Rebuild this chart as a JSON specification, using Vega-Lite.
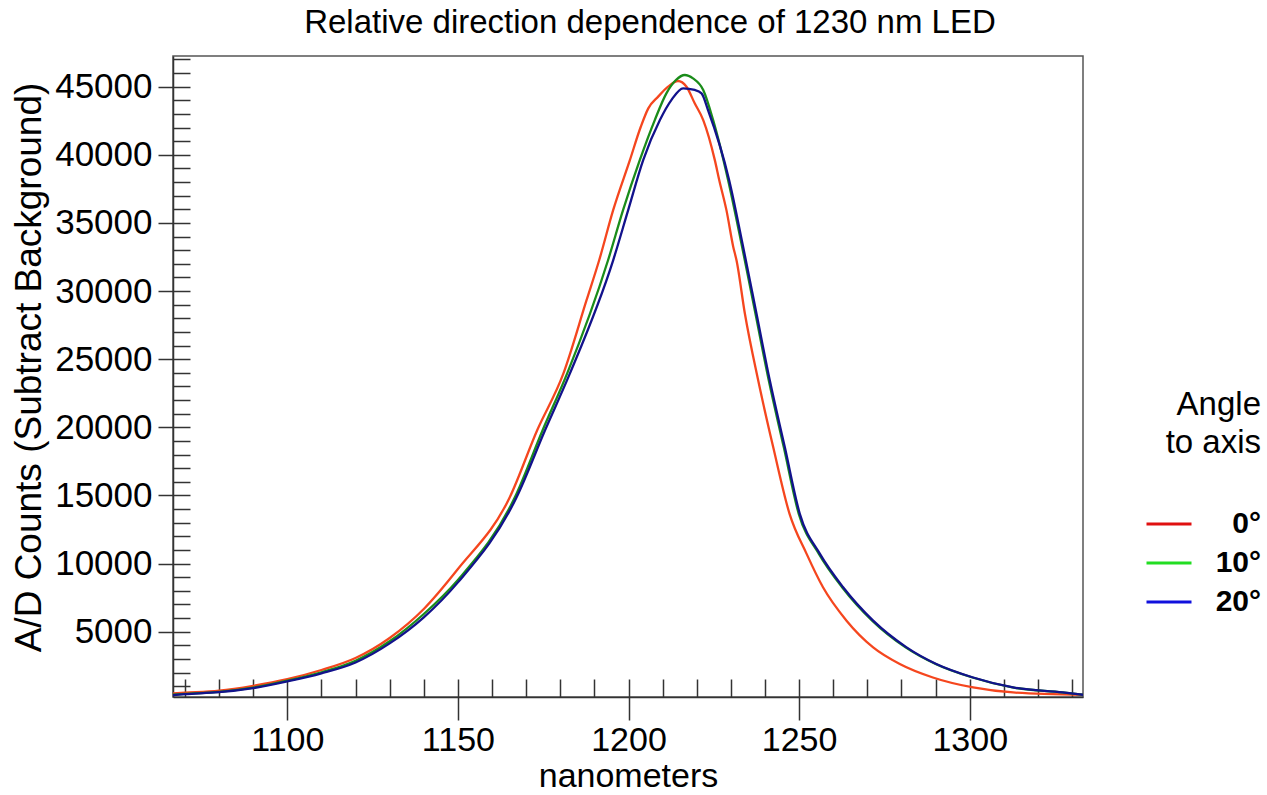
{
  "$schema": "https://vega.github.io/schema/vega-lite/v6.json",
  "width": 910,
  "height": 641,
  "autosize": {"type": "none"},
  "padding": {"left": 173, "top": 56, "right": 184, "bottom": 98},
  "background": "white",
  "config": {
    "font": "Liberation Sans",
    "view": {"stroke": "#555", "strokeWidth": 1.5},
    "axis": {
      "domainColor": "#333", "domainWidth": 1.5, "tickColor": "#333", "tickWidth": 1.5,
      "labelFont": "Liberation Sans", "labelFontSize": 35, "labelColor": "black",
      "titleFont": "Liberation Sans", "titleFontSize": 36, "titleFontWeight": "normal", "titleColor": "black",
      "grid": false
    }
  },
  "title": {
    "text": "Relative direction dependence of 1230 nm LED",
    "font": "Liberation Sans", "fontSize": 33, "fontWeight": "normal", "color": "black",
    "anchor": "middle", "dx": 22, "offset": 16
  },
  "data": {"values": [
    {"nm": 1066.5, "counts": 470, "angle": "0°"},
    {"nm": 1070, "counts": 520, "angle": "0°"},
    {"nm": 1080, "counts": 670, "angle": "0°"},
    {"nm": 1090, "counts": 1030, "angle": "0°"},
    {"nm": 1100, "counts": 1520, "angle": "0°"},
    {"nm": 1110, "counts": 2190, "angle": "0°"},
    {"nm": 1120, "counts": 3070, "angle": "0°"},
    {"nm": 1130, "counts": 4540, "angle": "0°"},
    {"nm": 1140, "counts": 6670, "angle": "0°"},
    {"nm": 1150, "counts": 9600, "angle": "0°"},
    {"nm": 1165.2, "counts": 14870, "angle": "0°"},
    {"nm": 1173.2, "counts": 19770, "angle": "0°"},
    {"nm": 1180.9, "counts": 23940, "angle": "0°"},
    {"nm": 1187.7, "counts": 29330, "angle": "0°"},
    {"nm": 1191.4, "counts": 32260, "angle": "0°"},
    {"nm": 1195.5, "counts": 35940, "angle": "0°"},
    {"nm": 1200.4, "counts": 39610, "angle": "0°"},
    {"nm": 1203.6, "counts": 42060, "angle": "0°"},
    {"nm": 1205.8, "counts": 43410, "angle": "0°"},
    {"nm": 1208.7, "counts": 44270, "angle": "0°"},
    {"nm": 1211.6, "counts": 45000, "angle": "0°"},
    {"nm": 1214.5, "counts": 45420, "angle": "0°"},
    {"nm": 1217.0, "counts": 45000, "angle": "0°"},
    {"nm": 1219.4, "counts": 43780, "angle": "0°"},
    {"nm": 1221.9, "counts": 42550, "angle": "0°"},
    {"nm": 1225.3, "counts": 39610, "angle": "0°"},
    {"nm": 1226.6, "counts": 38140, "angle": "0°"},
    {"nm": 1228.7, "counts": 35940, "angle": "0°"},
    {"nm": 1230.7, "counts": 33240, "angle": "0°"},
    {"nm": 1231.65, "counts": 32260, "angle": "0°"},
    {"nm": 1234.1, "counts": 28350, "angle": "0°"},
    {"nm": 1238.0, "counts": 23450, "angle": "0°"},
    {"nm": 1242.4, "counts": 18550, "angle": "0°"},
    {"nm": 1247.2, "counts": 13650, "angle": "0°"},
    {"nm": 1252.2, "counts": 10710, "angle": "0°"},
    {"nm": 1257.0, "counts": 8260, "angle": "0°"},
    {"nm": 1263.9, "counts": 5810, "angle": "0°"},
    {"nm": 1271.7, "counts": 3850, "angle": "0°"},
    {"nm": 1279.5, "counts": 2630, "angle": "0°"},
    {"nm": 1289.2, "counts": 1640, "angle": "0°"},
    {"nm": 1301.0, "counts": 910, "angle": "0°"},
    {"nm": 1312.7, "counts": 540, "angle": "0°"},
    {"nm": 1333.2, "counts": 360, "angle": "0°"},

    {"nm": 1066.5, "counts": 380, "angle": "10°"},
    {"nm": 1070, "counts": 440, "angle": "10°"},
    {"nm": 1080, "counts": 590, "angle": "10°"},
    {"nm": 1090, "counts": 900, "angle": "10°"},
    {"nm": 1100, "counts": 1400, "angle": "10°"},
    {"nm": 1110, "counts": 2020, "angle": "10°"},
    {"nm": 1120, "counts": 2870, "angle": "10°"},
    {"nm": 1130, "counts": 4300, "angle": "10°"},
    {"nm": 1140, "counts": 6300, "angle": "10°"},
    {"nm": 1150, "counts": 8800, "angle": "10°"},
    {"nm": 1166.7, "counts": 14870, "angle": "10°"},
    {"nm": 1174.8, "counts": 19770, "angle": "10°"},
    {"nm": 1182.0, "counts": 23940, "angle": "10°"},
    {"nm": 1194.0, "counts": 32260, "angle": "10°"},
    {"nm": 1198.4, "counts": 35940, "angle": "10°"},
    {"nm": 1203.3, "counts": 39610, "angle": "10°"},
    {"nm": 1207.7, "counts": 42550, "angle": "10°"},
    {"nm": 1211.1, "counts": 44510, "angle": "10°"},
    {"nm": 1213.9, "counts": 45490, "angle": "10°"},
    {"nm": 1216.5, "counts": 45860, "angle": "10°"},
    {"nm": 1218.9, "counts": 45610, "angle": "10°"},
    {"nm": 1221.9, "counts": 44760, "angle": "10°"},
    {"nm": 1224.8, "counts": 42550, "angle": "10°"},
    {"nm": 1229.2, "counts": 38140, "angle": "10°"},
    {"nm": 1233.3, "counts": 33240, "angle": "10°"},
    {"nm": 1237.2, "counts": 28350, "angle": "10°"},
    {"nm": 1241.1, "counts": 23450, "angle": "10°"},
    {"nm": 1245.5, "counts": 18550, "angle": "10°"},
    {"nm": 1249.9, "counts": 13650, "angle": "10°"},
    {"nm": 1255.8, "counts": 10710, "angle": "10°"},
    {"nm": 1262.6, "counts": 8260, "angle": "10°"},
    {"nm": 1271.4, "counts": 5810, "angle": "10°"},
    {"nm": 1281.2, "counts": 3850, "angle": "10°"},
    {"nm": 1290.0, "counts": 2630, "angle": "10°"},
    {"nm": 1300.8, "counts": 1640, "angle": "10°"},
    {"nm": 1312.5, "counts": 910, "angle": "10°"},
    {"nm": 1327.1, "counts": 540, "angle": "10°"},
    {"nm": 1333.2, "counts": 370, "angle": "10°"},

    {"nm": 1066.5, "counts": 350, "angle": "20°"},
    {"nm": 1070, "counts": 420, "angle": "20°"},
    {"nm": 1080, "counts": 560, "angle": "20°"},
    {"nm": 1090, "counts": 860, "angle": "20°"},
    {"nm": 1100, "counts": 1350, "angle": "20°"},
    {"nm": 1110, "counts": 1940, "angle": "20°"},
    {"nm": 1120, "counts": 2740, "angle": "20°"},
    {"nm": 1130, "counts": 4140, "angle": "20°"},
    {"nm": 1140, "counts": 6050, "angle": "20°"},
    {"nm": 1150, "counts": 8620, "angle": "20°"},
    {"nm": 1167.2, "counts": 14870, "angle": "20°"},
    {"nm": 1175.5, "counts": 19770, "angle": "20°"},
    {"nm": 1182.8, "counts": 23940, "angle": "20°"},
    {"nm": 1195.5, "counts": 32260, "angle": "20°"},
    {"nm": 1199.9, "counts": 35940, "angle": "20°"},
    {"nm": 1204.3, "counts": 39610, "angle": "20°"},
    {"nm": 1209.2, "counts": 42550, "angle": "20°"},
    {"nm": 1212.6, "counts": 44030, "angle": "20°"},
    {"nm": 1216.0, "counts": 44880, "angle": "20°"},
    {"nm": 1219.4, "counts": 44760, "angle": "20°"},
    {"nm": 1221.4, "counts": 44510, "angle": "20°"},
    {"nm": 1223.3, "counts": 43290, "angle": "20°"},
    {"nm": 1229.5, "counts": 38140, "angle": "20°"},
    {"nm": 1233.6, "counts": 33240, "angle": "20°"},
    {"nm": 1237.5, "counts": 28350, "angle": "20°"},
    {"nm": 1241.4, "counts": 23450, "angle": "20°"},
    {"nm": 1245.8, "counts": 18550, "angle": "20°"},
    {"nm": 1250.2, "counts": 13650, "angle": "20°"},
    {"nm": 1256.1, "counts": 10710, "angle": "20°"},
    {"nm": 1262.9, "counts": 8260, "angle": "20°"},
    {"nm": 1271.7, "counts": 5810, "angle": "20°"},
    {"nm": 1281.5, "counts": 3850, "angle": "20°"},
    {"nm": 1290.2, "counts": 2630, "angle": "20°"},
    {"nm": 1301.0, "counts": 1640, "angle": "20°"},
    {"nm": 1312.7, "counts": 910, "angle": "20°"},
    {"nm": 1327.3, "counts": 540, "angle": "20°"},
    {"nm": 1333.2, "counts": 370, "angle": "20°"}
  ]},
  "layer": [
    {
      "mark": {"type": "line", "strokeWidth": 2.3, "clip": true, "interpolate": "monotone"},
      "encoding": {
        "x": {"field": "nm", "type": "quantitative",
          "scale": {"domain": [1066.5, 1333.2], "nice": false, "zero": false},
          "axis": {"values": [1100, 1150, 1200, 1250, 1300], "format": "d", "tickSize": 23, "labelPadding": 3, "labelFontSize": 34, "labelFlush": false, "title": "nanometers", "titleFontSize": 34, "titlePadding": 2}},
        "y": {"field": "counts", "type": "quantitative",
          "scale": {"domain": [207, 47253], "nice": false, "zero": false},
          "axis": {"values": [5000, 10000, 15000, 20000, 25000, 30000, 35000, 40000, 45000], "format": "d", "tickSize": 15, "labelPadding": 6, "title": "A/D Counts (Subtract Background)", "titleFontSize": 37, "titlePadding": 6, "titleY": 311}},
        "stroke": {"field": "angle", "type": "nominal",
          "scale": {"range": ["#f5461e", "#1a8c1a", "#12128c"]},
          "legend": null}
      }
    },
    {
      "mark": {"type": "point", "opacity": 0},
      "encoding": {
        "x": {"field": "nm", "type": "quantitative",
          "axis": {"orient": "bottom", "values": [1070, 1080, 1090, 1100, 1110, 1120, 1130, 1140, 1150, 1160, 1170, 1180, 1190, 1200, 1210, 1220, 1230, 1240, 1250, 1260, 1270, 1280, 1290, 1300, 1310, 1320, 1330], "tickSize": -18, "labels": false, "domain": false, "title": null}},
        "y": {"field": "counts", "type": "quantitative",
          "axis": {"orient": "left", "values": [1000, 2000, 3000, 4000, 5000, 6000, 7000, 8000, 9000, 10000, 11000, 12000, 13000, 14000, 15000, 16000, 17000, 18000, 19000, 20000, 21000, 22000, 23000, 24000, 25000, 26000, 27000, 28000, 29000, 30000, 31000, 32000, 33000, 34000, 35000, 36000, 37000, 38000, 39000, 40000, 41000, 42000, 43000, 44000, 45000, 46000, 47000], "tickSize": -17, "labels": false, "domain": false, "title": null}},
        "color": {"field": "angle", "type": "nominal",
          "scale": {"domain": ["0°", "10°", "20°"], "range": ["#e01010", "#22dd22", "#1010dd"]},
          "legend": {
            "orient": "none", "legendX": 972, "legendY": 333,
            "title": ["Angle", "to axis"], "titleFont": "Liberation Sans", "titleFontSize": 33, "titleFontWeight": "normal", "titleColor": "black",
            "titleAlign": "right", "titleAnchor": "end", "titleLineHeight": 38, "titlePadding": 40,
            "symbolType": "stroke", "symbolSize": 2025, "symbolStrokeWidth": 3, "symbolOpacity": 1,
            "labelFont": "Liberation Sans", "labelFontSize": 30, "labelFontWeight": "bold", "labelColor": "black",
            "labelAlign": "right", "labelOffset": 68, "rowPadding": -6, "padding": 0
          }}
      }
    }
  ],
  "resolve": {"axis": {"x": "independent", "y": "independent"}}
}
